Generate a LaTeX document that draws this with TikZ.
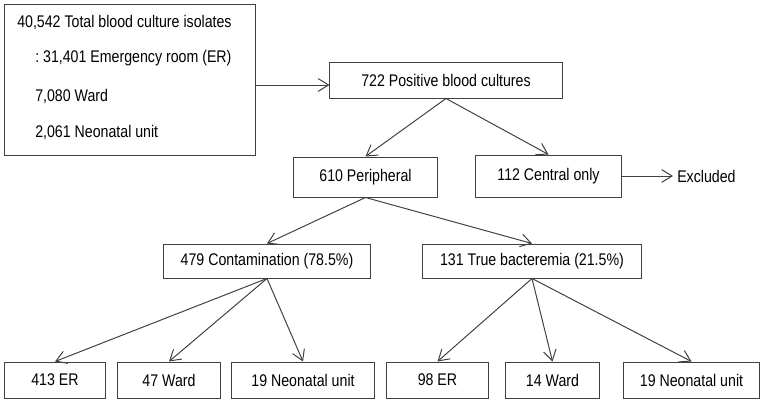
\documentclass[tikz,border=0pt]{standalone}
\usepackage{fontspec}
\setmainfont[FakeStretch=0.84]{Liberation Sans}
\usetikzlibrary{arrows.meta}
\begin{document}
\begin{tikzpicture}[
    box/.style={draw=black!75, line width=0.7pt, inner sep=0pt, align=center},
    lbl/.style={inner sep=0pt, anchor=west},
    >={Straight Barb[length=2.6mm,width=3.2mm]},
    font=\fontsize{12}{14}\selectfont]
    \def\x{0.025}
    \def\y{-0.025}
    \useasboundingbox (0,0) rectangle (763*\x, 403*\y);
    % isolates
    \node [box, minimum width=6.25cm, minimum height=3.75cm] (total) at (130*\x, 80*\y) {};
    \node [lbl] (total_1) at (17*\x, 22*\y) {40,542 Total blood culture isolates};
    \node [lbl] (total_2) at (35*\x, 58*\y) {:~31,401 Emergency room (ER)};
    \node [lbl] (total_3) at (35*\x, 96*\y) {7,080 Ward};
    \node [lbl] (total_4) at (35*\x, 132*\y) {2,061 Neonatal unit};
    % positive cultures
    \node [box, minimum width=5.8cm, minimum height=0.9cm] (pos) at (446*\x, 80*\y) {722 Positive blood cultures};
    \node [box, minimum width=3.575cm, minimum height=1cm] (peri) at (365.5*\x, 177*\y) {610 Peripheral};
    \node [box, minimum width=3.625cm, minimum height=1.05cm] (central) at (548.5*\x, 176*\y) {112 Central only};
    \node [lbl] (excl) at (677*\x, 176*\y) {Excluded};
    \node [box, minimum width=5.15cm, minimum height=0.85cm] (cont) at (267*\x, 261*\y) {479 Contamination (78.5\%)};
    \node [box, minimum width=5.45cm, minimum height=0.85cm] (true) at (532*\x, 261*\y) {131 True bacteremia (21.5\%)};
    % wards
    \node [box, minimum width=2.5cm, minimum height=0.9cm] (er1) at (55*\x, 380*\y) {413 ER};
    \node [box, minimum width=2.55cm, minimum height=0.9cm] (ward1) at (169*\x, 380*\y) {47 Ward};
    \node [box, minimum width=3.55cm, minimum height=0.9cm] (neo1) at (303*\x, 380*\y) {19 Neonatal unit};
    \node [box, minimum width=2.525cm, minimum height=0.9cm] (er2) at (437.5*\x, 380*\y) {98 ER};
    \node [box, minimum width=2.325cm, minimum height=0.9cm] (ward2) at (552.5*\x, 380*\y) {14 Ward};
    \node [box, minimum width=3.375cm, minimum height=0.9cm] (neo2) at (691.5*\x, 380*\y) {19 Neonatal unit};
    % arrows
    \begin{scope}[draw=black!75, line width=0.7pt]
    \path ([yshift=-1.25mm]total.east) edge [->] ([yshift=-1.25mm]pos.west);
    \path (pos.south) edge [->] (peri.north);
    \path (pos.south) edge [->] (central.north);
    \path (central.east) edge [->,shorten >=1mm] (excl.west);
    \path (peri.south) edge [->] (cont.north);
    \path (peri.south) edge [->] (true.north);
    \path (cont.south) edge [->] (er1.north);
    \path (cont.south) edge [->] (ward1.north);
    \path (cont.south) edge [->] (neo1.north);
    \path (true.south) edge [->] (er2.north);
    \path (true.south) edge [->] (ward2.north);
    \path (true.south) edge [->] (neo2.north);
    \end{scope}
\end{tikzpicture}
\end{document}
